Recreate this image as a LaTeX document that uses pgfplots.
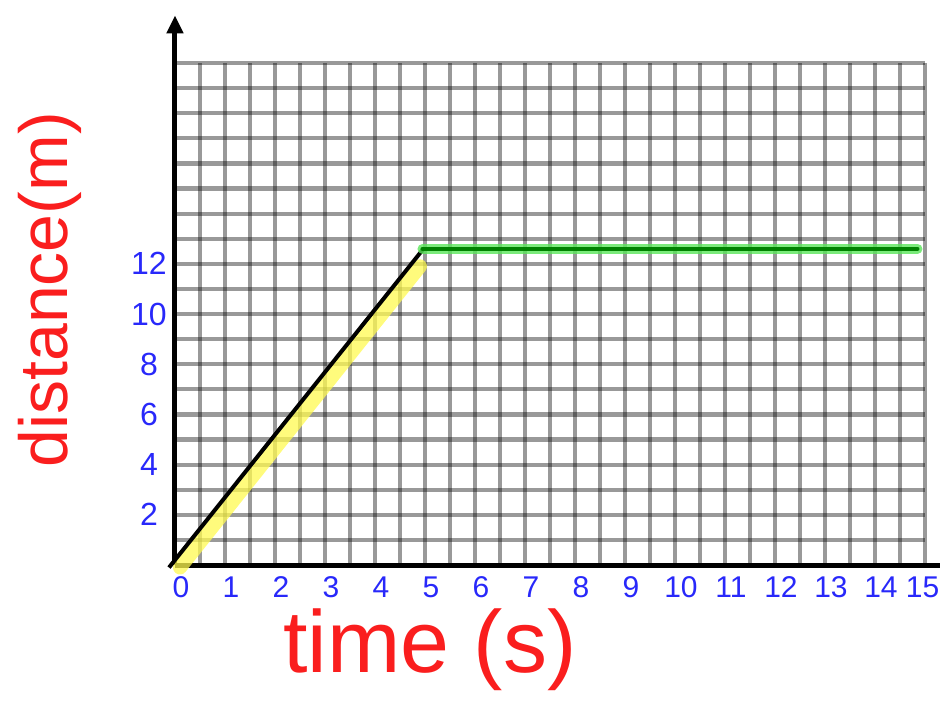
\documentclass[border=0pt]{standalone}
\usepackage{fontspec}
\setmainfont{Liberation Sans}
\usepackage{pgfplots}
\pgfplotsset{compat=1.18}
\usetikzlibrary{arrows.meta}
\definecolor{penblue}{RGB}{40,40,250}
\definecolor{penred}{RGB}{250,30,30}
\definecolor{hlyellow}{RGB}{255,250,80}
\definecolor{hlgreen}{RGB}{90,230,90}
\definecolor{pengreen}{RGB}{0,130,0}

\begin{document}
\begin{tikzpicture}
\begin{axis}[
    scale only axis,
    width=375pt, height=251pt,
    xmin=0, xmax=15, ymin=0, ymax=20,
    clip=false,
    axis line style={draw=none},
    tick style={draw=none},
    xtick={0,...,15},
    xticklabels={0,1,2,3,4,5,6,7,8,9,10,11,12,13,14,15\hphantom{0}},
    minor xtick={0.5,1.5,...,14.5},
    ytick={2,4,...,12},
    minor ytick={1,3,5,7,9,11,13,14,15,16,17,18,19,20},
    grid=both,
    grid style={black, opacity=0.4, line width=2.1pt},
    minor grid style={black, opacity=0.4, line width=2.1pt},
    /pgf/number format/assume math mode=true,
    xticklabel style={anchor=center, yshift=-11pt, xshift=3pt, text=penblue, font=\fontsize{15}{15}\selectfont},
    yticklabel style={anchor=center, xshift=-13pt, text=penblue, font=\fontsize{16}{16}\selectfont},
    xlabel={time (s)},
    ylabel={distance(m)},
    x label style={at={(rel axis cs:0.34,-0.168)}, anchor=center, text=penred, font=\fontsize{44}{44}\selectfont},
    y label style={at={(rel axis cs:-0.1667,0.548)}, anchor=center, text=penred, font=\fontsize{34}{34}\selectfont},
]
% page corners
\coordinate (bbsw) at (rel axis cs:-0.2333,-0.2769);
\coordinate (bbne) at (rel axis cs:1.02,1.1255);
% axes drawn by hand
\draw[black, line width=2.5pt] (axis cs:0,0) -- (axis cs:15.3,0);
\draw[black, line width=2.5pt, -{Triangle[width=8pt,length=9pt]}] (axis cs:0,0) -- (axis cs:0,21.9);

% highlighted motion
\addplot[hlyellow, opacity=0.75, line width=7pt, line cap=round] coordinates {(0.1,-0.1) (4.9,11.9)};
\addplot[black, line width=2pt] coordinates {(-0.12,-0.1) (4.95,12.55)};
\addplot[hlgreen, opacity=0.8, line width=5pt, line cap=round] coordinates {(4.95,12.6) (14.85,12.6)};
\addplot[pengreen, line width=2pt, line cap=round] coordinates {(4.95,12.6) (14.85,12.6)};
\end{axis}
\pgfresetboundingbox
\useasboundingbox (bbsw) rectangle (bbne);
\end{tikzpicture}
\end{document}
